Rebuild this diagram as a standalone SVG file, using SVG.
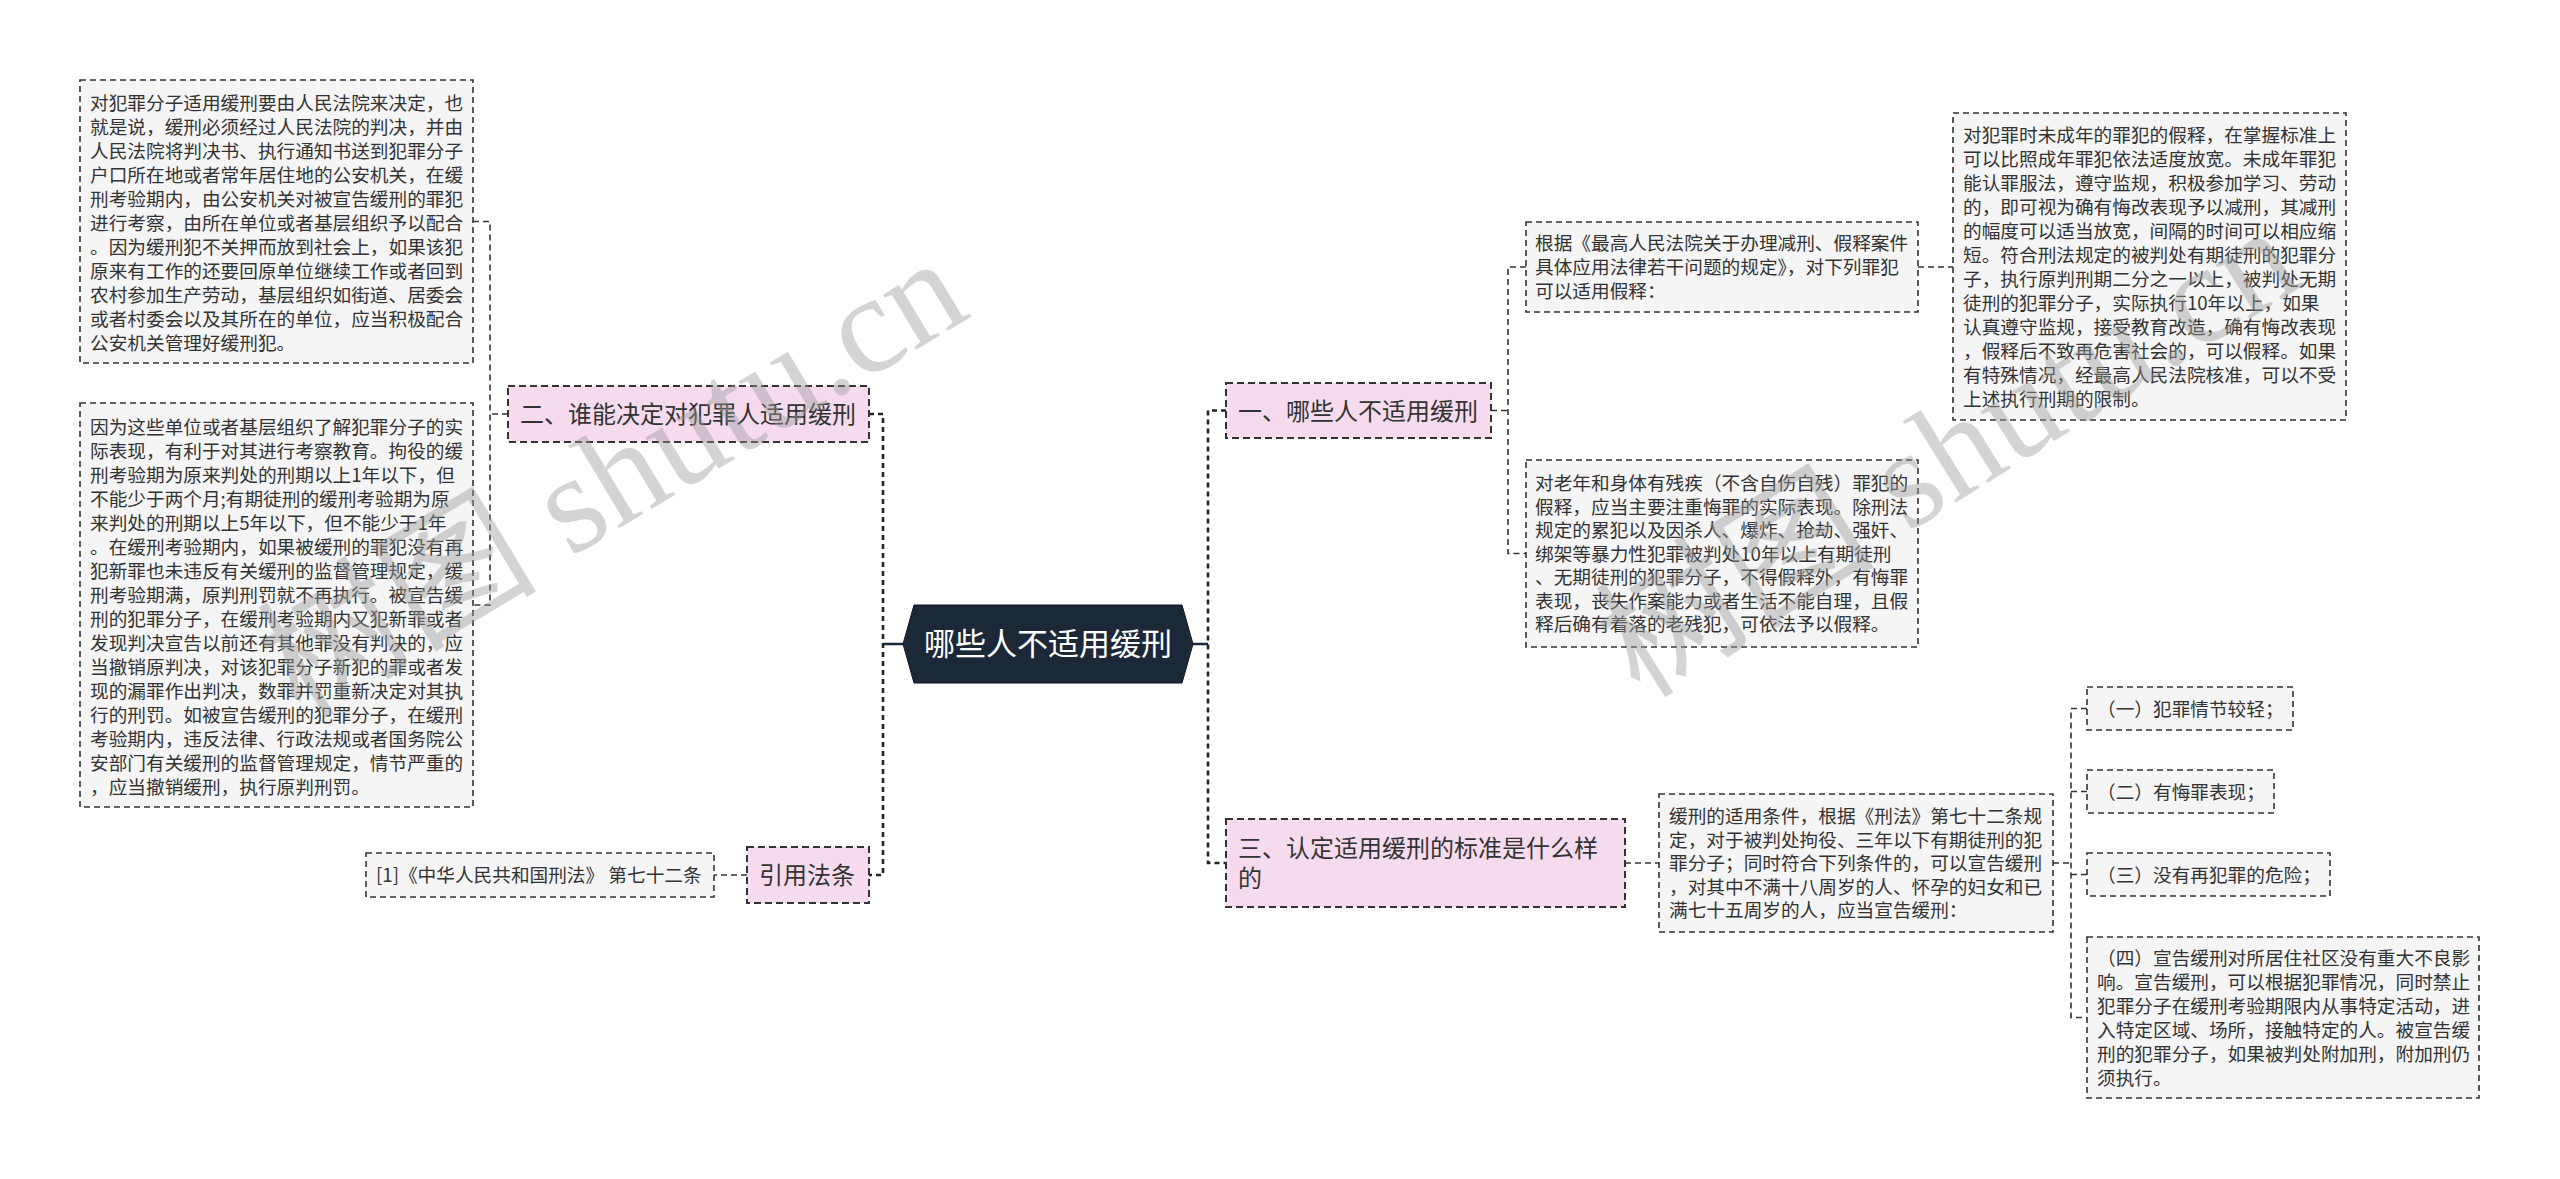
<svg xmlns="http://www.w3.org/2000/svg" width="2560" height="1179" viewBox="0 0 2560 1179">
<style>
.bg{fill:#ffffff}
.box{fill:#f5f5f5;stroke:#333;stroke-width:1.6;stroke-dasharray:6 4}
.pink{fill:#f6dbef;stroke:#333;stroke-width:2;stroke-dasharray:7 4}
.t{font-family:"Noto Sans CJK SC","Microsoft YaHei",sans-serif;font-size:18.67px;fill:#333}
.tn{font-family:"Noto Sans CJK SC","Microsoft YaHei",sans-serif;font-size:24px;fill:#333}
.tc{font-family:"Noto Sans CJK SC","Microsoft YaHei",sans-serif;font-size:31px;fill:#ffffff}
.c1{fill:none;stroke:#222;stroke-width:2.6;stroke-dasharray:5 4}
.c2{fill:none;stroke:#333;stroke-width:1.6;stroke-dasharray:6 4}
.solid{fill:none;stroke:#1b2838;stroke-width:2.6}
.wm{font-family:"Liberation Serif","Noto Sans CJK SC",serif;font-size:140px;fill:#9a9a9a;opacity:0.42}
</style>
<rect class="bg" x="0" y="0" width="2560" height="1179"/>

<g id="connectors">
  <path class="solid" d="M883,644 H903 M1193,644 H1208"/>
  <path class="c1" d="M869,414 H883 V875 H869"/>
  <path class="c1" d="M1226,410.5 H1208 V863 H1226"/>
  <path class="c2" d="M508,414 H490 M473,221.5 H490 V605 H473"/>
  <path class="c2" d="M747,875 H714"/>
  <path class="c2" d="M1491,410.5 H1508 M1526,267 H1508 V553.5 H1526"/>
  <path class="c2" d="M1918,267 H1953"/>
  <path class="c2" d="M1625,863 H1659"/>
  <path class="c2" d="M2053,863 H2071 M2087,708.5 H2071 V1017.5 H2087 M2071,791.5 H2087 M2071,874.5 H2087"/>
</g>

<g id="center">
  <polygon points="903,644 914,605 1182,605 1193,644 1182,683 914,683" fill="#1b2838" stroke="#0f1822" stroke-width="1"/>
  <text class="tc" x="1048" y="655" text-anchor="middle">哪些人不适用缓刑</text>
</g>

<g id="node-er">
  <rect class="pink" x="508" y="386" width="361" height="56"/>
  <text class="tn" x="520" y="423">二、谁能决定对犯罪人适用缓刑</text>
</g>

<g id="node-yinyong">
  <rect class="pink" x="747" y="847" width="122" height="56"/>
  <text class="tn" x="759" y="884">引用法条</text>
</g>

<g id="node-yi">
  <rect class="pink" x="1226" y="383" width="265" height="55"/>
  <text class="tn" x="1238" y="419.5">一、哪些人不适用缓刑</text>
</g>

<g id="node-san">
  <rect class="pink" x="1226" y="819" width="399" height="88"/>
  <text class="tn" x="1238" y="857">三、认定适用缓刑的标准是什么样</text>
  <text class="tn" x="1238" y="887">的</text>
</g>

<g id="box-a">
  <rect class="box" x="80" y="80" width="393" height="283"/>
  <text class="t" x="90" y="110">对犯罪分子适用缓刑要由人民法院来决定，也</text>
  <text class="t" x="90" y="134">就是说，缓刑必须经过人民法院的判决，并由</text>
  <text class="t" x="90" y="158">人民法院将判决书、执行通知书送到犯罪分子</text>
  <text class="t" x="90" y="182">户口所在地或者常年居住地的公安机关，在缓</text>
  <text class="t" x="90" y="206">刑考验期内，由公安机关对被宣告缓刑的罪犯</text>
  <text class="t" x="90" y="230">进行考察，由所在单位或者基层组织予以配合</text>
  <text class="t" x="90" y="254">。因为缓刑犯不关押而放到社会上，如果该犯</text>
  <text class="t" x="90" y="278">原来有工作的还要回原单位继续工作或者回到</text>
  <text class="t" x="90" y="302">农村参加生产劳动，基层组织如街道、居委会</text>
  <text class="t" x="90" y="326">或者村委会以及其所在的单位，应当积极配合</text>
  <text class="t" x="90" y="350">公安机关管理好缓刑犯。</text>
</g>

<g id="box-b">
  <rect class="box" x="80" y="403" width="393" height="404"/>
  <text class="t" x="90" y="434">因为这些单位或者基层组织了解犯罪分子的实</text>
  <text class="t" x="90" y="458">际表现，有利于对其进行考察教育。拘役的缓</text>
  <text class="t" x="90" y="482">刑考验期为原来判处的刑期以上1年以下，但</text>
  <text class="t" x="90" y="506">不能少于两个月;有期徒刑的缓刑考验期为原</text>
  <text class="t" x="90" y="530">来判处的刑期以上5年以下，但不能少于1年</text>
  <text class="t" x="90" y="554">。在缓刑考验期内，如果被缓刑的罪犯没有再</text>
  <text class="t" x="90" y="578">犯新罪也未违反有关缓刑的监督管理规定，缓</text>
  <text class="t" x="90" y="602">刑考验期满，原判刑罚就不再执行。被宣告缓</text>
  <text class="t" x="90" y="626">刑的犯罪分子，在缓刑考验期内又犯新罪或者</text>
  <text class="t" x="90" y="650">发现判决宣告以前还有其他罪没有判决的，应</text>
  <text class="t" x="90" y="674">当撤销原判决，对该犯罪分子新犯的罪或者发</text>
  <text class="t" x="90" y="698">现的漏罪作出判决，数罪并罚重新决定对其执</text>
  <text class="t" x="90" y="722">行的刑罚。如被宣告缓刑的犯罪分子，在缓刑</text>
  <text class="t" x="90" y="746">考验期内，违反法律、行政法规或者国务院公</text>
  <text class="t" x="90" y="770">安部门有关缓刑的监督管理规定，情节严重的</text>
  <text class="t" x="90" y="794">，应当撤销缓刑，执行原判刑罚。</text>
</g>

<g id="box-cite">
  <rect class="box" x="366" y="853" width="348" height="44"/>
  <text class="t" x="376" y="882">[1]《中华人民共和国刑法》 第七十二条</text>
</g>

<g id="box-genju">
  <rect class="box" x="1526" y="222" width="392" height="90"/>
  <text class="t" x="1535" y="250">根据《最高人民法院关于办理减刑、假释案件</text>
  <text class="t" x="1535" y="274">具体应用法律若干问题的规定》，对下列罪犯</text>
  <text class="t" x="1535" y="298">可以适用假释：</text>
</g>

<g id="box-weichengnian">
  <rect class="box" x="1953" y="113" width="393" height="307"/>
  <text class="t" x="1963" y="141.5">对犯罪时未成年的罪犯的假释，在掌握标准上</text>
  <text class="t" x="1963" y="165.5">可以比照成年罪犯依法适度放宽。未成年罪犯</text>
  <text class="t" x="1963" y="189.5">能认罪服法，遵守监规，积极参加学习、劳动</text>
  <text class="t" x="1963" y="213.5">的，即可视为确有悔改表现予以减刑，其减刑</text>
  <text class="t" x="1963" y="237.5">的幅度可以适当放宽，间隔的时间可以相应缩</text>
  <text class="t" x="1963" y="261.5">短。符合刑法规定的被判处有期徒刑的犯罪分</text>
  <text class="t" x="1963" y="285.5">子，执行原判刑期二分之一以上，被判处无期</text>
  <text class="t" x="1963" y="309.5">徒刑的犯罪分子，实际执行10年以上，如果</text>
  <text class="t" x="1963" y="333.5">认真遵守监规，接受教育改造，确有悔改表现</text>
  <text class="t" x="1963" y="357.5">，假释后不致再危害社会的，可以假释。如果</text>
  <text class="t" x="1963" y="381.5">有特殊情况，经最高人民法院核准，可以不受</text>
  <text class="t" x="1963" y="405.5">上述执行刑期的限制。</text>
</g>

<g id="box-laonian">
  <rect class="box" x="1526" y="460" width="392" height="187"/>
  <text class="t" x="1535" y="490">对老年和身体有残疾（不含自伤自残）罪犯的</text>
  <text class="t" x="1535" y="513.5">假释，应当主要注重悔罪的实际表现。除刑法</text>
  <text class="t" x="1535" y="537">规定的累犯以及因杀人、爆炸、抢劫、强奸、</text>
  <text class="t" x="1535" y="560.5">绑架等暴力性犯罪被判处10年以上有期徒刑</text>
  <text class="t" x="1535" y="584">、无期徒刑的犯罪分子，不得假释外，有悔罪</text>
  <text class="t" x="1535" y="607.5">表现，丧失作案能力或者生活不能自理，且假</text>
  <text class="t" x="1535" y="631">释后确有着落的老残犯，可依法予以假释。</text>
</g>

<g id="box-tiaojian">
  <rect class="box" x="1659" y="794" width="394" height="138"/>
  <text class="t" x="1669" y="823">缓刑的适用条件，根据《刑法》第七十二条规</text>
  <text class="t" x="1669" y="846.5">定，对于被判处拘役、三年以下有期徒刑的犯</text>
  <text class="t" x="1669" y="870">罪分子；同时符合下列条件的，可以宣告缓刑</text>
  <text class="t" x="1669" y="893.5">，对其中不满十八周岁的人、怀孕的妇女和已</text>
  <text class="t" x="1669" y="917">满七十五周岁的人，应当宣告缓刑：</text>
</g>

<g id="box-1">
  <rect class="box" x="2087" y="687" width="206" height="43"/>
  <text class="t" x="2097" y="715.5">（一）犯罪情节较轻；</text>
</g>
<g id="box-2">
  <rect class="box" x="2087" y="770" width="187" height="43"/>
  <text class="t" x="2097" y="798.5">（二）有悔罪表现；</text>
</g>
<g id="box-3">
  <rect class="box" x="2087" y="853" width="243" height="43"/>
  <text class="t" x="2097" y="881.5">（三）没有再犯罪的危险；</text>
</g>
<g id="box-4">
  <rect class="box" x="2087" y="937" width="392" height="161"/>
  <text class="t" x="2097" y="964.5">（四）宣告缓刑对所居住社区没有重大不良影</text>
  <text class="t" x="2097" y="988.5">响。宣告缓刑，可以根据犯罪情况，同时禁止</text>
  <text class="t" x="2097" y="1012.5">犯罪分子在缓刑考验期限内从事特定活动，进</text>
  <text class="t" x="2097" y="1036.5">入特定区域、场所，接触特定的人。被宣告缓</text>
  <text class="t" x="2097" y="1060.5">刑的犯罪分子，如果被判处附加刑，附加刑仍</text>
  <text class="t" x="2097" y="1084.5">须执行。</text>
</g>

<g id="watermark">
  <text class="wm" x="0" y="0" transform="translate(300,720) rotate(-31)">树图 shutu.cn</text>
  <text class="wm" x="0" y="0" transform="translate(1640,700) rotate(-32)">树图 shutu.cn</text>
</g>
</svg>
